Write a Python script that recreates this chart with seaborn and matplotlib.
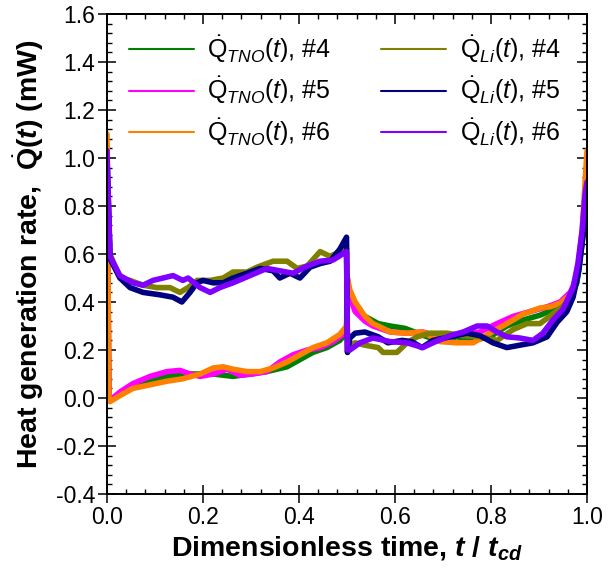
import matplotlib
matplotlib.use('Agg')
import matplotlib.pyplot as plt
import seaborn as sns
import pandas as pd
from matplotlib.ticker import MultipleLocator, FormatStrFormatter

# ---------------- data ----------------
t_tno4 = [0, 0.004, 0.00625, 0.027, 0.054, 0.09, 0.125, 0.158, 0.194, 0.221, 0.2625, 0.298, 0.333,
          0.375, 0.402, 0.429, 0.458, 0.485, 0.499, 0.501, 0.506, 0.517, 0.5375, 0.565, 0.59, 0.621,
          0.667, 0.694, 0.729, 0.7625, 0.798, 0.833, 0.867, 0.902, 0.9375, 0.965, 0.979, 0.99, 1.0]
q_tno4 = [1.0, -0.01, -0.01, 0.015, 0.045, 0.07, 0.09, 0.10, 0.10, 0.10, 0.09, 0.10, 0.11,
          0.13, 0.16, 0.19, 0.21, 0.24, 0.27, 0.46, 0.43, 0.38, 0.34, 0.31, 0.30, 0.29,
          0.255, 0.24, 0.255, 0.24, 0.255, 0.30, 0.325, 0.345, 0.375, 0.42, 0.48, 0.65, 0.9]

t_tno5 = [0, 0.004, 0.00625, 0.027, 0.054, 0.09, 0.125, 0.152, 0.173, 0.194, 0.221, 0.25, 0.277,
          0.304, 0.333, 0.36, 0.3875, 0.417, 0.444, 0.471, 0.499, 0.501, 0.506, 0.517, 0.5375, 0.554,
          0.59, 0.625, 0.658, 0.694, 0.75, 0.777, 0.8125, 0.846, 0.881, 0.917, 0.944, 0.965, 0.979,
          0.99, 1.0]
q_tno5 = [1.05, -0.01, -0.01, 0.025, 0.06, 0.09, 0.11, 0.115, 0.10, 0.09, 0.10, 0.12, 0.095,
          0.10, 0.11, 0.15, 0.18, 0.20, 0.21, 0.235, 0.275, 0.46, 0.42, 0.36, 0.32, 0.30,
          0.275, 0.27, 0.275, 0.255, 0.27, 0.275, 0.31, 0.34, 0.36, 0.38, 0.40, 0.44, 0.50,
          0.68, 0.95]

t_tno6 = [0, 0.004, 0.00625, 0.027, 0.054, 0.09, 0.125, 0.158, 0.194, 0.221, 0.242, 0.2625, 0.292,
          0.319, 0.346, 0.375, 0.402, 0.429, 0.458, 0.485, 0.499, 0.501, 0.506, 0.517, 0.5375, 0.554,
          0.565, 0.59, 0.625, 0.658, 0.694, 0.729, 0.7625, 0.798, 0.833, 0.867, 0.902, 0.923, 0.944,
          0.965, 0.979, 0.99, 0.996, 1.0]
q_tno6 = [1.1, -0.01, -0.015, 0.01, 0.04, 0.055, 0.07, 0.08, 0.10, 0.125, 0.13, 0.12, 0.11,
          0.11, 0.125, 0.15, 0.18, 0.21, 0.23, 0.265, 0.30, 0.50, 0.45, 0.40, 0.34, 0.31,
          0.30, 0.275, 0.27, 0.275, 0.235, 0.23, 0.23, 0.27, 0.31, 0.35, 0.375, 0.38, 0.395,
          0.43, 0.50, 0.70, 0.90, 1.03]

t_li4 = [0, 0.00625, 0.027, 0.048, 0.075, 0.104, 0.131, 0.152, 0.169, 0.1875, 0.215, 0.242, 0.2625,
         0.292, 0.3125, 0.346, 0.375, 0.396, 0.417, 0.444, 0.465, 0.485, 0.499, 0.501, 0.506, 0.517,
         0.5375, 0.565, 0.575, 0.604, 0.625, 0.646, 0.673, 0.708, 0.742, 0.777, 0.8125, 0.846, 0.875,
         0.902, 0.929, 0.958, 0.979, 0.99, 1.0]
q_li4 = [1.0, 0.60, 0.50, 0.49, 0.47, 0.46, 0.46, 0.44, 0.46, 0.49, 0.49, 0.50, 0.525,
         0.525, 0.545, 0.57, 0.57, 0.54, 0.55, 0.61, 0.59, 0.61, 0.625, 0.19, 0.22, 0.23,
         0.22, 0.21, 0.19, 0.19, 0.23, 0.255, 0.27, 0.27, 0.26, 0.255, 0.24, 0.285, 0.31,
         0.31, 0.35, 0.395, 0.49, 0.65, 0.85]

t_li5 = [0, 0.00625, 0.027, 0.048, 0.075, 0.11, 0.1375, 0.156, 0.173, 0.1875, 0.2, 0.221, 0.242,
         0.2625, 0.292, 0.319, 0.346, 0.36, 0.381, 0.402, 0.423, 0.444, 0.465, 0.485, 0.499, 0.501,
         0.506, 0.517, 0.5375, 0.565, 0.585, 0.615, 0.635, 0.656, 0.679, 0.715, 0.75, 0.777, 0.804,
         0.833, 0.860, 0.8875, 0.917, 0.9375, 0.958, 0.971, 0.983, 0.996, 1.0]
q_li5 = [1.0, 0.58, 0.50, 0.46, 0.44, 0.43, 0.42, 0.40, 0.44, 0.48, 0.49, 0.48, 0.48,
         0.50, 0.52, 0.54, 0.53, 0.50, 0.52, 0.50, 0.545, 0.56, 0.57, 0.62, 0.67, 0.19,
         0.25, 0.27, 0.275, 0.255, 0.23, 0.24, 0.235, 0.21, 0.24, 0.255, 0.27, 0.26, 0.23,
         0.21, 0.22, 0.23, 0.255, 0.315, 0.36, 0.42, 0.53, 0.75, 0.85]

t_li6 = [0, 0.00625, 0.027, 0.054, 0.075, 0.0958, 0.1167, 0.1375, 0.158, 0.169, 0.194, 0.215, 0.235,
         0.2625, 0.298, 0.333, 0.36, 0.3875, 0.417, 0.444, 0.471, 0.499, 0.501, 0.506, 0.527, 0.554,
         0.59, 0.625, 0.658, 0.679, 0.715, 0.742, 0.771, 0.792, 0.8125, 0.833, 0.860, 0.8875, 0.908,
         0.929, 0.95, 0.971, 0.981, 0.99, 0.996, 1.0]
q_li6 = [1.03, 0.59, 0.51, 0.48, 0.47, 0.49, 0.50, 0.51, 0.49, 0.50, 0.46, 0.44, 0.46,
         0.48, 0.51, 0.54, 0.53, 0.52, 0.55, 0.57, 0.575, 0.61, 0.20, 0.20, 0.23, 0.25,
         0.235, 0.23, 0.21, 0.23, 0.26, 0.275, 0.30, 0.30, 0.275, 0.255, 0.25, 0.24, 0.27,
         0.325, 0.37, 0.46, 0.56, 0.70, 0.85, 0.90]

labels = [r'$\dot{\mathrm{Q}}_{\mathit{TNO}}\mathit{(t)}$, #4',
          r'$\dot{\mathrm{Q}}_{\mathit{TNO}}\mathit{(t)}$, #5',
          r'$\dot{\mathrm{Q}}_{\mathit{TNO}}\mathit{(t)}$, #6',
          r'$\dot{\mathrm{Q}}_{\mathit{Li}}\mathit{(t)}$, #4',
          r'$\dot{\mathrm{Q}}_{\mathit{Li}}\mathit{(t)}$, #5',
          r'$\dot{\mathrm{Q}}_{\mathit{Li}}\mathit{(t)}$, #6']
colors = ['#008000', '#FF00FF', '#FF8000', '#808000', '#000080', '#8000FF']
series_t = [t_tno4, t_tno5, t_tno6, t_li4, t_li5, t_li6]
series_q = [q_tno4, q_tno5, q_tno6, q_li4, q_li5, q_li6]

# ---------------- style ----------------
sns.set_theme(style='ticks')
plt.rcParams['font.family'] = ['Liberation Sans', 'DejaVu Sans']
plt.rcParams['mathtext.fontset'] = 'custom'
plt.rcParams['mathtext.rm'] = 'Liberation Sans'
plt.rcParams['mathtext.it'] = 'Liberation Sans:italic'
plt.rcParams['mathtext.bf'] = 'Liberation Sans:bold'
plt.rcParams['mathtext.bfit'] = 'Liberation Sans:italic:bold'
for k in ['text.color', 'axes.labelcolor', 'xtick.color', 'ytick.color', 'axes.edgecolor']:
    plt.rcParams[k] = 'black'

fig = plt.figure(figsize=(6.13, 5.80), dpi=100)
ax = fig.add_axes([107 / 613, 1 - 494 / 580, 480 / 613, 480 / 580])

for lab, col, tt, qq in zip(labels, colors, series_t, series_q):
    df = pd.DataFrame({'t': tt, 'q': qq})
    sns.lineplot(data=df, x='t', y='q', color=col, lw=4.0, label=lab, ax=ax,
                 estimator=None, sort=False)

ax.set_xlim(0, 1)
ax.set_ylim(-0.4, 1.6)
ax.xaxis.set_major_locator(MultipleLocator(0.2))
ax.xaxis.set_minor_locator(MultipleLocator(0.04))
ax.yaxis.set_major_locator(MultipleLocator(0.2))
ax.yaxis.set_minor_locator(MultipleLocator(0.04))
ax.xaxis.set_major_formatter(FormatStrFormatter('%.1f'))
ax.yaxis.set_major_formatter(FormatStrFormatter('%.1f'))

for s in ax.spines.values():
    s.set_linewidth(1.4)
    s.set_color('black')
ax.tick_params(which='major', direction='inout', length=13, width=1.1, labelsize=16.5,
               colors='black', pad=2)
ax.tick_params(which='minor', direction='in', length=3.6, width=1.0, colors='black')

secx = ax.secondary_xaxis('top')
secx.xaxis.set_major_locator(MultipleLocator(0.2))
secx.xaxis.set_minor_locator(MultipleLocator(0.04))
secx.tick_params(which='major', direction='in', length=7, width=1.1, labeltop=False)
secx.tick_params(which='minor', direction='in', length=3.6, width=1.0)
secx.spines['top'].set_linewidth(1.4)
secy = ax.secondary_yaxis('right')
secy.yaxis.set_major_locator(MultipleLocator(0.2))
secy.yaxis.set_minor_locator(MultipleLocator(0.04))
secy.tick_params(which='major', direction='in', length=7, width=1.1, labelright=False)
secy.tick_params(which='minor', direction='in', length=3.6, width=1.0)
secy.spines['right'].set_linewidth(1.4)

ax.set_xlabel(r'Dimensionless time, $\mathbfit{t}\ \mathbf{/}\ \mathbfit{t}_{\mathbfit{cd}}$',
              fontsize=20.5, fontweight='bold', labelpad=4)
ax.set_ylabel(r'Heat generation rate,  $\dot{\mathbf{Q}}\mathbf{(}\mathbfit{t}\mathbf{)}$ (mW)',
              fontsize=20.5, fontweight='bold', labelpad=7)

leg = ax.legend(loc='upper left', bbox_to_anchor=(0.045, 0.96), ncol=2, frameon=False,
                fontsize=18, handlelength=2.6, handletextpad=0.55, columnspacing=2.0,
                labelspacing=0.38, borderpad=0, borderaxespad=0)
for h in leg.get_lines():
    h.set_linewidth(1.5)

fig.savefig('out.png', dpi=100)
